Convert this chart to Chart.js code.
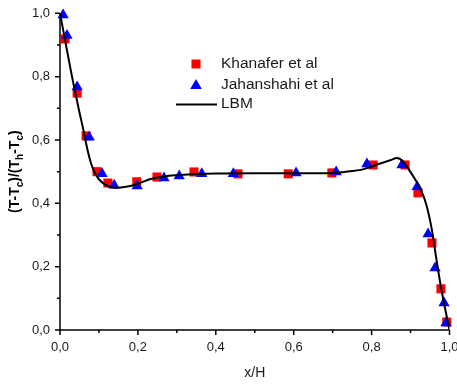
<!DOCTYPE html>
<html>
<head>
<meta charset="utf-8">
<script src="https://cdn.jsdelivr.net/npm/chart.js@4"></script>
<style>
  html, body { margin: 0; padding: 0; background: #fff; }
</style>
</head>
<body>
<canvas id="chart" width="457" height="384"></canvas>
<script>
// Khanafer et al (red squares)
const khanaferX = [0.013, 0.044, 0.067, 0.095, 0.123, 0.197, 0.249, 0.344, 0.457, 0.586, 0.698, 0.804, 0.886, 0.919, 0.955, 0.978, 0.993];
const khanaferY = [0.919, 0.748, 0.613, 0.500, 0.464, 0.468, 0.483, 0.499, 0.493, 0.493, 0.496, 0.521, 0.521, 0.433, 0.275, 0.130, 0.025];

// Jahanshahi et al (blue triangles)
const jahanX = [0.008, 0.018, 0.044, 0.075, 0.108, 0.139, 0.198, 0.267, 0.306, 0.364, 0.445, 0.606, 0.709, 0.788, 0.878, 0.917, 0.945, 0.963, 0.986, 0.991];
const jahanY = [0.995, 0.930, 0.767, 0.609, 0.493, 0.457, 0.455, 0.480, 0.486, 0.493, 0.493, 0.496, 0.499, 0.524, 0.521, 0.452, 0.303, 0.196, 0.085, 0.022];

// LBM curve
const lbmX = [0, 0.01, 0.02, 0.03, 0.04, 0.05, 0.06, 0.07, 0.08, 0.09, 0.1, 0.115, 0.13, 0.14, 0.155, 0.17, 0.2, 0.23, 0.26, 0.3, 0.35, 0.4, 0.5, 0.6, 0.7, 0.73, 0.78, 0.82, 0.85, 0.865, 0.88, 0.895, 0.91, 0.925, 0.94, 0.955, 0.965, 0.976, 0.988, 1.0];
const lbmY = [1.0, 0.935, 0.87, 0.805, 0.745, 0.687, 0.632, 0.572, 0.525, 0.495, 0.476, 0.46, 0.451, 0.449, 0.45, 0.452, 0.462, 0.476, 0.484, 0.489, 0.492, 0.494, 0.495, 0.495, 0.496, 0.499, 0.508, 0.525, 0.537, 0.543, 0.533, 0.508, 0.479, 0.447, 0.398, 0.315, 0.235, 0.15, 0.072, 0.0];

const tickVals = [0, 0.1, 0.2, 0.3, 0.4, 0.5, 0.6, 0.7, 0.8, 0.9, 1.0];

const toPoints = (xs, ys) => xs.map((x, i) => ({ x, y: ys[i] }));
const fmt = (v) => (Math.round(v * 10) % 2 === 0 ? v.toFixed(1).replace('.', ',') : '');

const noPad = (scale) => {
  scale.paddingLeft = 0;
  scale.paddingRight = 0;
  scale.paddingTop = 0;
  scale.paddingBottom = 0;
};

const frame = {
  id: 'frame',
  beforeDatasetsDraw(chart) {
    const { ctx, chartArea: a, scales: { x, y } } = chart;
    ctx.save();
    ctx.strokeStyle = '#000';
    ctx.lineWidth = 1.5;
    ctx.beginPath();
    ctx.moveTo(a.left, a.top);
    ctx.lineTo(a.left, a.bottom);
    ctx.lineTo(a.right, a.bottom);
    tickVals.forEach((v, i) => {
      const len = i % 2 === 0 ? 5 : 3;
      const px = x.getPixelForValue(v);
      ctx.moveTo(px, a.bottom);
      ctx.lineTo(px, a.bottom + len);
      const py = y.getPixelForValue(v);
      ctx.moveTo(a.left, py);
      ctx.lineTo(a.left - len, py);
    });
    ctx.stroke();
    ctx.restore();
  },
  afterDraw(chart) {
    const { ctx, chartArea: a } = chart;
    ctx.save();
    // x title
    ctx.fillStyle = '#1a1a1a';
    ctx.font = '14px "Liberation Sans", Arial, sans-serif';
    ctx.textAlign = 'center';
    ctx.textBaseline = 'middle';
    ctx.fillText('x/H', (a.left + a.right) / 2, 373);

    // y title with subscripts
    const parts = [['(T-T', 0], ['c', 1], [')/(T', 0], ['h', 1], ['-T', 0], ['c', 1], [')', 0]];
    const big = 'bold 14px "Liberation Sans", Arial, sans-serif';
    const small = 'bold 10px "Liberation Sans", Arial, sans-serif';
    let total = 0;
    parts.forEach(([t, sub]) => { ctx.font = sub ? small : big; total += ctx.measureText(t).width; });
    ctx.translate(19, (a.top + a.bottom) / 2);
    ctx.rotate(-Math.PI / 2);
    ctx.textAlign = 'left';
    ctx.textBaseline = 'alphabetic';
    ctx.fillStyle = '#000';
    let cx = -total / 2;
    parts.forEach(([t, sub]) => {
      ctx.font = sub ? small : big;
      ctx.fillText(t, cx, sub ? 3.5 : 0);
      cx += ctx.measureText(t).width;
    });
    ctx.restore();

    // legend
    ctx.save();
    ctx.font = '15.5px "Liberation Sans", Arial, sans-serif';
    ctx.textAlign = 'left';
    ctx.textBaseline = 'middle';
    ctx.fillStyle = '#ff0000';
    ctx.fillRect(191.5, 59.5, 9, 9);
    ctx.fillStyle = '#0000ff';
    ctx.beginPath();
    ctx.moveTo(196, 79);
    ctx.lineTo(201.8, 89);
    ctx.lineTo(190.2, 89);
    ctx.closePath();
    ctx.fill();
    ctx.strokeStyle = '#000';
    ctx.lineWidth = 2;
    ctx.beginPath();
    ctx.moveTo(176, 104.5);
    ctx.lineTo(217, 104.5);
    ctx.stroke();
    ctx.fillStyle = '#1a1a1a';
    ctx.fillText('Khanafer et al', 221, 64);
    ctx.fillText('Jahanshahi et al', 221, 85);
    ctx.fillText('LBM', 221, 104);
    ctx.restore();
  }
};

new Chart(document.getElementById('chart'), {
  type: 'scatter',
  data: {
    datasets: [
      {
        label: 'LBM',
        type: 'line',
        data: toPoints(lbmX, lbmY),
        borderColor: '#000',
        borderWidth: 2,
        pointRadius: 0,
        cubicInterpolationMode: 'monotone',
        fill: false,
        order: 0,
      },
      {
        label: 'Jahanshahi et al',
        data: toPoints(jahanX, jahanY),
        pointStyle: 'triangle',
        pointRadius: 6.5,
        backgroundColor: '#0000ff',
        borderColor: '#0000ff',
        borderWidth: 0,
        clip: false,
        order: 1,
      },
      {
        label: 'Khanafer et al',
        data: toPoints(khanaferX, khanaferY),
        pointStyle: 'rect',
        pointRadius: 6.4,
        backgroundColor: '#ff0000',
        borderColor: '#ff0000',
        borderWidth: 0,
        clip: false,
        order: 2,
      },
    ],
  },
  options: {
    responsive: false,
    animation: false,
    layout: { padding: { left: 0, right: 7.5, top: 13.3, bottom: 0 } },
    plugins: {
      legend: { display: false },
      tooltip: { enabled: false },
    },
    scales: {
      x: {
        type: 'linear',
        min: 0,
        max: 1,
        afterBuildTicks: (scale) => { scale.ticks = tickVals.map((v) => ({ value: v })); },
        afterFit: (scale) => { scale.height = 54; noPad(scale); },
        grid: { display: false, drawTicks: false },
        border: { display: false },
        ticks: {
          autoSkip: false,
          maxRotation: 0,
          padding: 10,
          color: '#1a1a1a',
          font: { family: '"Liberation Sans", Arial, sans-serif', size: 13 },
          callback: (v) => fmt(v),
        },
      },
      y: {
        type: 'linear',
        min: 0,
        max: 1,
        afterBuildTicks: (scale) => { scale.ticks = tickVals.map((v) => ({ value: v })); },
        afterFit: (scale) => { scale.width = 60; noPad(scale); },
        grid: { display: false, drawTicks: false },
        border: { display: false },
        ticks: {
          autoSkip: false,
          padding: 10,
          color: '#1a1a1a',
          font: { family: '"Liberation Sans", Arial, sans-serif', size: 13 },
          callback: (v) => fmt(v),
        },
      },
    },
  },
  plugins: [frame],
});
</script>
</body>
</html>
